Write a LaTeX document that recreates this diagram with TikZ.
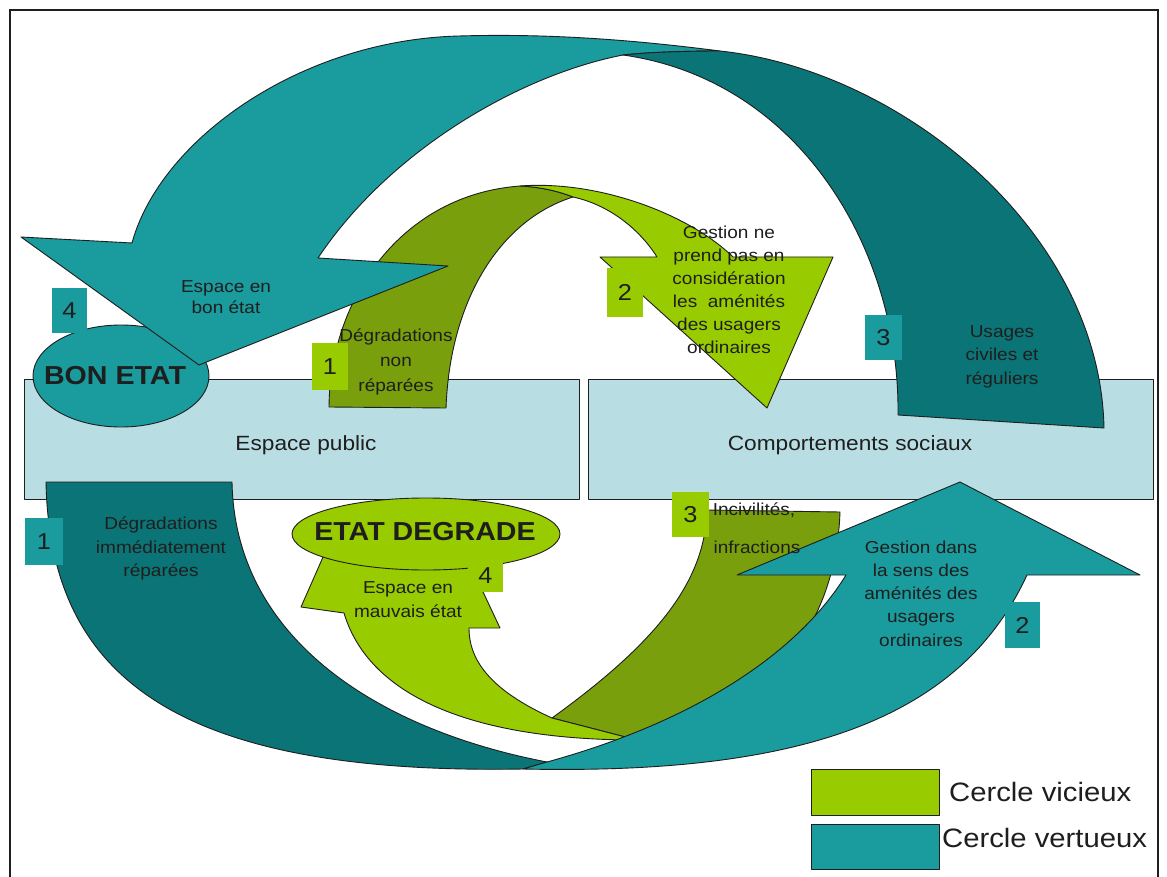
\documentclass[tikz,border=0pt]{standalone}
\usepackage{fontspec}
\setmainfont{Liberation Sans}[FakeStretch=1.1]
\definecolor{boxblue}{HTML}{B8DEE3}
\definecolor{lgreen}{HTML}{99CC00}
\definecolor{dgreen}{HTML}{79A00C}
\definecolor{lteal}{HTML}{1A9B9E}
\definecolor{dteal}{HTML}{0B7476}
\definecolor{ink}{HTML}{1E1E1E}
\begin{document}
\begin{tikzpicture}[x=1pt,y=-1pt,
  edge/.style={draw=ink, line width=0.9pt, line join=round},
  mainbox/.style={edge, fill=boxblue},
  numlbl/.style={inner sep=0, text=ink, font=\fontsize{23}{23}\selectfont},
  txt/.style={align=center, inner sep=0, text=ink},
  boxtxt/.style={inner sep=0, text=ink, font=\fontsize{20.6}{24}\selectfont},
  bigtxt/.style={inner sep=0, text=ink, font=\fontsize{26}{28}\selectfont\bfseries},
  legtxt/.style={inner sep=0, text=ink, anchor=west, font=\fontsize{26.6}{28}\selectfont}
]
\useasboundingbox (0,0) rectangle (1167,877);
\fill[white] (0,0) rectangle (1167,877);
% frame
\draw[ink, line width=1.2pt] (10,890) -- (10,10) -- (1158,10) -- (1158,890);

% boxes
\draw[mainbox] (24,379) rectangle (579,499);
\draw[mainbox] (588,379) rectangle (1153,499);

% BON ETAT ellipse
\path[edge, fill=lteal] (121,376) ellipse [x radius=88, y radius=51];

% top green arrow (vicious 1 -> 2)
\path[edge, fill=dgreen] (329,407)
  .. controls (330,300) and (400,195) .. (520,186)
  .. controls (540,187) and (558,191) .. (573,197)
  .. controls (500,220) and (450,300) .. (446,408)
  -- cycle;
\path[edge, fill=lgreen] (520,186)
  .. controls (600,180) and (690,215) .. (733,257)
  -- (833,257) -- (767,408) -- (600,257) -- (657,257)
  .. controls (640,230) and (610,205) .. (573,197)
  .. controls (558,191) and (540,187) .. (520,186)
  -- cycle;

% top teal arrow (virtuous 3 -> 4)
\path[edge, fill=lteal] (132,243)
  .. controls (160,140) and (300,40) .. (459,36)
  .. controls (560,33) and (650,42) .. (720,51)
  .. controls (690,51) and (650,52) .. (623,55)
  .. controls (520,75) and (390,150) .. (318,258)
  -- (448,266) -- (199,365) -- (21,237) -- cycle;
\path[edge, fill=dteal] (623,55)
  .. controls (650,52) and (690,51) .. (720,51)
  .. controls (900,70) and (1100,230) .. (1104,428)
  -- (898,415)
  .. controls (900,250) and (800,80) .. (623,55)
  -- cycle;

% bottom green arrow (vicious 3 -> 4)
\path[edge, fill=dgreen] (707,510) -- (840,512)
  .. controls (835,650) and (740,725) .. (637,740)
  -- (552,718)
  .. controls (660,640) and (705,580) .. (707,510)
  -- cycle;
\path[edge, fill=lgreen] (552,718)
  .. controls (490,690) and (469,660) .. (469,628)
  -- (500,628) -- (468,560) -- (410,515) -- (327,548) -- (301,607) -- (344,613)
  .. controls (370,700) and (480,740) .. (637,740)
  -- cycle;

% bottom teal arrow (virtuous 1 -> 2)
\path[edge, fill=dteal] (46,482) -- (232,482)
  .. controls (235,640) and (380,730) .. (547,762)
  -- (523,769)
  .. controls (180,775) and (50,680) .. (46,482)
  -- cycle;
\path[edge, fill=lteal] (547,762)
  .. controls (700,720) and (800,650) .. (846,575)
  -- (737,575) -- (960,482) -- (1140,575) -- (1027,575)
  .. controls (960,720) and (800,775) .. (523,769)
  -- cycle;

% ETAT DEGRADE ellipse
\path[edge, fill=lgreen] (426,534) ellipse [x radius=134, y radius=36];

% number labels
\node[numlbl, fill=lteal, minimum width=35pt, minimum height=45pt] (n4t) at (69.5,310.5) {4};
\node[numlbl, fill=lgreen, minimum width=36pt, minimum height=47pt] (n1g) at (330,366.5) {1};
\node[numlbl, fill=lgreen, minimum width=36pt, minimum height=49pt] (n2g) at (625,292.5) {2};
\node[numlbl, fill=lteal, minimum width=37pt, minimum height=45pt] (n3t) at (883.5,337.5) {3};
\node[numlbl, fill=lteal, minimum width=38pt, minimum height=47pt] (n1t) at (44,541.5) {1};
\node[numlbl, fill=lgreen, minimum width=35pt, minimum height=32pt] (n4g) at (485.5,576) {4};
\node[numlbl, fill=lgreen, minimum width=37pt, minimum height=45pt] (n3g) at (690.5,514.5) {3};
\node[numlbl, fill=lteal, minimum width=35pt, minimum height=46pt] (n2t) at (1022.5,625) {2};

% texts
\node[boxtxt] (ep) at (306,445) {Espace public};
\node[boxtxt] (cs) at (850,445) {Comportements sociaux};
\node[bigtxt] (be) at (115,376) {BON ETAT};
\node[bigtxt] (ed) at (425,532) {ETAT DEGRADE};
\node[txt, font=\fontsize{17.3}{21}\selectfont] (t1) at (226,297.5) {Espace en\\bon état};
\node[txt, font=\fontsize{17.3}{25}\selectfont] (t2) at (396,362) {Dégradations\\non\\réparées};
\node[txt, font=\fontsize{17.3}{23}\selectfont] (t3) at (729,289.5) {Gestion ne\\prend pas en\\considération\\les\ \ aménités\\des usagers\\ordinaires};
\node[txt, font=\fontsize{17.3}{23.5}\selectfont] (t4) at (1002,356.5) {Usages\\civiles et\\réguliers};
\node[txt, font=\fontsize{17.3}{23.5}\selectfont] (t5) at (161,548.5) {Dégradations\\immédiatement\\réparées};
\node[txt, font=\fontsize{17.3}{24}\selectfont] (t6) at (408,600) {Espace en\\mauvais état};
\node[txt, font=\fontsize{17.3}{23}\selectfont] (t7) at (754,510) {Incivilités,};
\node[txt, font=\fontsize{17.3}{23}\selectfont] (t8) at (757,547) {infractions};
\node[txt, font=\fontsize{17.3}{23.3}\selectfont] (t9) at (921,593.5) {Gestion dans\\la sens des\\aménités des\\usagers\\ordinaires};

% legend
\draw[edge, fill=lgreen] (811,769) rectangle (939,815);
\draw[edge, fill=lteal] (811,824) rectangle (939,869);
\node[legtxt] (lv) at (949,792) {Cercle vicieux};
\node[legtxt] (lt) at (942,838) {Cercle vertueux};
\end{tikzpicture}
\end{document}
